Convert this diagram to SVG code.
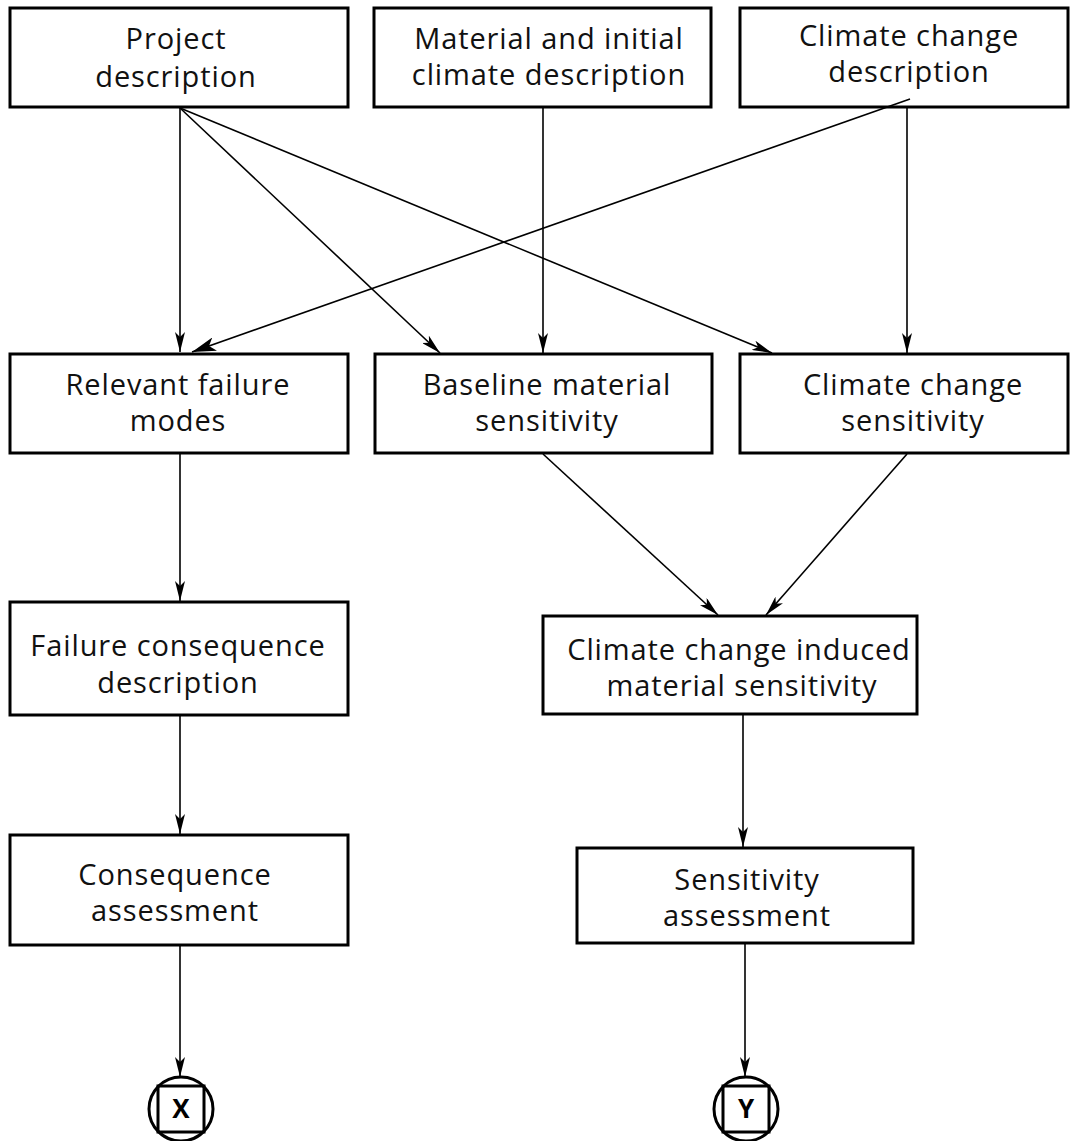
<svg xmlns="http://www.w3.org/2000/svg" width="1076" height="1141" viewBox="0 0 1076 1141">
<defs>
<style>
.box{fill:#fff;stroke:#000;stroke-width:3}
.t{font-family:"Open Sans","Noto Sans",sans-serif;font-size:29px;letter-spacing:0.9px;fill:#111;text-anchor:middle}
.c{stroke:#000;stroke-width:1.6;fill:none}
.tb{font-family:"Open Sans","Noto Sans",sans-serif;font-size:26px;font-weight:bold;fill:#000;text-anchor:middle}
</style>
<marker id="ah" viewBox="0 0 20 10" refX="20" refY="5" markerWidth="20" markerHeight="10" markerUnits="userSpaceOnUse" orient="auto">
<path d="M0,0 L20,5 L0,10 L5,5 Z" fill="#000"/>
</marker>
<marker id="ah2" viewBox="0 0 24 14" refX="24" refY="7" markerWidth="24" markerHeight="14" markerUnits="userSpaceOnUse" orient="auto">
<path d="M0,0 L24,7 L0,14 L6,7 Z" fill="#000"/>
</marker>
</defs>
<rect width="1076" height="1141" fill="#fff"/>
<g id="project">
<rect class="box" x="10" y="8" width="338" height="99"/>
<text class="t" x="176" y="49">Project</text>
<text class="t" x="176" y="87">description</text>
</g>
<g id="material">
<rect class="box" x="374" y="8" width="337" height="99"/>
<text class="t" x="549" y="49">Material and initial</text>
<text class="t" x="549" y="85">climate description</text>
</g>
<g id="climate-desc">
<rect class="box" x="740" y="8" width="328" height="99"/>
<text class="t" x="909" y="46">Climate change</text>
<text class="t" x="909" y="82">description</text>
</g>
<g id="relevant">
<rect class="box" x="10" y="354" width="338" height="99"/>
<text class="t" x="178" y="395">Relevant failure</text>
<text class="t" x="178" y="431">modes</text>
</g>
<g id="baseline">
<rect class="box" x="375" y="354" width="337" height="99"/>
<text class="t" x="547" y="395">Baseline material</text>
<text class="t" x="547" y="431">sensitivity</text>
</g>
<g id="cc-sensitivity">
<rect class="box" x="740" y="354" width="328" height="99"/>
<text class="t" x="913" y="395">Climate change</text>
<text class="t" x="913" y="431">sensitivity</text>
</g>
<g id="failure-consequence">
<rect class="box" x="10" y="602" width="338" height="113"/>
<text class="t" x="178" y="656">Failure consequence</text>
<text class="t" x="178" y="693">description</text>
</g>
<g id="cc-induced">
<rect class="box" x="543" y="616" width="374" height="98"/>
<text class="t" x="739" y="660">Climate change induced</text>
<text class="t" x="742" y="696">material sensitivity</text>
</g>
<g id="consequence-assessment">
<rect class="box" x="10" y="835" width="338" height="110"/>
<text class="t" x="175" y="885">Consequence</text>
<text class="t" x="175" y="921">assessment</text>
</g>
<g id="sensitivity-assessment">
<rect class="box" x="577" y="848" width="336" height="95"/>
<text class="t" x="747" y="890">Sensitivity</text>
<text class="t" x="747" y="926">assessment</text>
</g>
<g id="x-connector">
<circle cx="181" cy="1109" r="32" fill="#fff" stroke="#000" stroke-width="3"/>
<rect x="158" y="1086" width="46" height="46" fill="none" stroke="#000" stroke-width="3"/>
<text class="tb" x="181" y="1118">X</text>
</g>
<g id="y-connector">
<circle cx="746" cy="1109" r="32" fill="#fff" stroke="#000" stroke-width="3"/>
<rect x="723" y="1086" width="46" height="46" fill="none" stroke="#000" stroke-width="3"/>
<text class="tb" x="746" y="1118">Y</text>
</g>
<g id="connectors">
<line class="c" x1="180" y1="108" x2="180" y2="352" marker-end="url(#ah)"/>
<line class="c" x1="180" y1="108" x2="440" y2="353" marker-end="url(#ah)"/>
<line class="c" x1="180" y1="108" x2="772" y2="353" marker-end="url(#ah)"/>
<line class="c" x1="543" y1="108" x2="543" y2="353" marker-end="url(#ah)"/>
<line class="c" x1="907" y1="108" x2="907" y2="353" marker-end="url(#ah)"/>
<line class="c" x1="910" y1="99" x2="192" y2="352" marker-end="url(#ah2)" stroke-width="2"/>
<line class="c" x1="180" y1="454" x2="180" y2="601" marker-end="url(#ah)"/>
<line class="c" x1="543" y1="454" x2="718" y2="615" marker-end="url(#ah)"/>
<line class="c" x1="907" y1="454" x2="766" y2="615" marker-end="url(#ah)"/>
<line class="c" x1="180" y1="716" x2="180" y2="834" marker-end="url(#ah)"/>
<line class="c" x1="743" y1="715" x2="743" y2="847" marker-end="url(#ah)"/>
<line class="c" x1="180" y1="946" x2="180" y2="1077" marker-end="url(#ah)"/>
<line class="c" x1="745" y1="944" x2="745" y2="1077" marker-end="url(#ah)"/>
</g>
</svg>
